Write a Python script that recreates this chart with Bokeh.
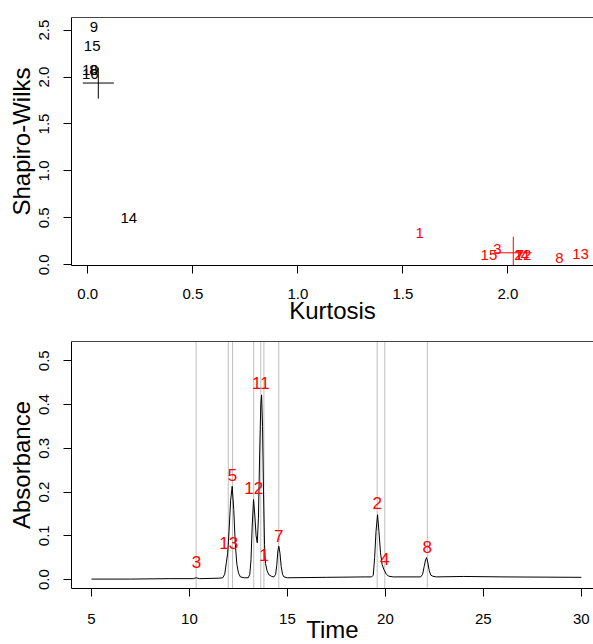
from bokeh.plotting import figure
from bokeh.layouts import column
from bokeh.models import LinearAxis, FixedTicker, Range1d, NumeralTickFormatter
from bokeh.core.properties import value
from bokeh.embed import file_html
from bokeh.resources import INLINE

FONT = "Liberation Sans"

# ---------------- top panel data (Kurtosis vs Shapiro-Wilks) ----------------
black_labels = ["9", "15", "10", "8", "16", "14"]
black_kurt = [0.029, 0.021, 0.012, 0.027, 0.012, 0.195]
black_sw = [2.528, 2.333, 2.075, 2.07, 2.035, 0.50]

red_labels = ["1", "3", "15", "2", "7", "12", "4", "8", "13"]
red_kurt = [1.58, 1.95, 1.91, 2.05, 2.058, 2.072, 2.082, 2.246, 2.346]
red_sw = [0.336, 0.17, 0.10, 0.10, 0.10, 0.10, 0.10, 0.074, 0.117]

# group centres with spread (crosses)
cross_x = [0.05, 2.026]
cross_y = [1.936, 0.128]
cross_xlo = [-0.024, 1.94]
cross_xhi = [0.124, 2.112]
cross_ylo = [1.77, -0.04]
cross_yhi = [2.10, 0.30]
cross_col = ["black", "#FF0000"]

kurt_ticks = [0.0, 0.5, 1.0, 1.5, 2.0]
sw_ticks = [0.0, 0.5, 1.0, 1.5, 2.0, 2.5]

# ---------------- bottom panel data (chromatogram) ----------------
time = [5.0, 7.0, 9.0, 10.2, 10.34, 10.5, 11.5, 11.7, 11.8, 11.88, 11.95, 12.02,
        12.10, 12.18, 12.26, 12.34, 12.42, 12.50, 12.60, 12.80, 13.00, 13.08,
        13.14, 13.20, 13.27, 13.33, 13.40, 13.46, 13.52, 13.58, 13.64, 13.68,
        13.73, 13.78, 13.83, 13.88, 13.96, 14.05, 14.20, 14.31, 14.40, 14.46,
        14.51, 14.56, 14.62, 14.68, 14.75, 14.82, 15.0, 17.0, 19.0, 19.30,
        19.38, 19.45, 19.52, 19.60, 19.67, 19.75, 19.83, 19.92, 20.05, 20.18,
        20.4, 21.8, 21.9, 21.98, 22.05, 22.10, 22.16, 22.24, 22.32, 22.42,
        22.6, 24.0, 26.0, 30.0]
absorb = [0.001, 0.001, 0.002, 0.002, 0.004, 0.002, 0.003, 0.004, 0.012, 0.038,
          0.060, 0.110, 0.180, 0.213, 0.160, 0.080, 0.035, 0.015, 0.006, 0.004,
          0.004, 0.012, 0.045, 0.120, 0.183, 0.150, 0.100, 0.084, 0.140, 0.280,
          0.400, 0.422, 0.350, 0.200, 0.080, 0.037, 0.020, 0.011, 0.007, 0.006,
          0.012, 0.035, 0.065, 0.076, 0.060, 0.030, 0.012, 0.006, 0.004, 0.005,
          0.006, 0.006, 0.010, 0.050, 0.110, 0.148, 0.110, 0.061, 0.035, 0.023,
          0.012, 0.0075, 0.006, 0.006, 0.012, 0.030, 0.045, 0.050, 0.040, 0.020,
          0.010, 0.0075, 0.006, 0.007, 0.006, 0.005]

peak_labels = ["3", "13", "5", "12", "11", "1", "7", "2", "4", "8"]
peak_time = [10.34, 11.98, 12.20, 13.28, 13.64, 13.80, 14.56, 19.58, 19.97, 22.14]
label_time = [10.36, 12.0, 12.2, 13.28, 13.64, 13.8, 14.56, 19.58, 19.97, 22.14]
label_abs = [0.040, 0.0845, 0.240, 0.209, 0.449, 0.055, 0.100, 0.175, 0.046, 0.075]

time_ticks = [5, 10, 15, 20, 25, 30]
abs_ticks = [0.0, 0.1, 0.2, 0.3, 0.4, 0.5]


def style_axes(p, xticks, yticks, xfmt, yfmt, xlabel, ylabel, xlstand, xstand, ystand):
    p.outline_line_color = None
    p.xgrid.visible = False
    p.ygrid.visible = False
    p.background_fill_color = "white"
    p.border_fill_color = "white"
    for ax in p.xaxis + p.yaxis:
        ax.axis_line_color = "black"
        ax.axis_line_width = 1
        ax.major_tick_line_color = "black"
        ax.major_tick_out = 8
        ax.major_tick_in = 0
        ax.minor_tick_line_color = None
        ax.major_label_text_font = FONT
        ax.major_label_text_font_size = "15px"
        ax.major_label_text_color = "black"
        ax.axis_label_text_font = FONT
        ax.axis_label_text_font_size = "24px"
        ax.axis_label_text_font_style = "normal"
        ax.axis_label_text_color = "black"
    p.xaxis.ticker = FixedTicker(ticks=xticks)
    p.yaxis.ticker = FixedTicker(ticks=yticks)
    p.xaxis.formatter = NumeralTickFormatter(format=xfmt)
    p.yaxis.formatter = NumeralTickFormatter(format=yfmt)
    p.xaxis.axis_label = xlabel
    p.yaxis.axis_label = ylabel
    p.xaxis.major_label_standoff = xlstand
    p.yaxis.major_label_standoff = 14
    p.yaxis.major_label_orientation = "vertical"
    p.xaxis.axis_label_standoff = xstand
    p.yaxis.axis_label_standoff = ystand
    top = LinearAxis(ticker=FixedTicker(ticks=[]), major_label_text_font_size="0px",
                     axis_line_color="#444444", major_tick_line_color=None,
                     minor_tick_line_color=None)
    p.add_layout(top, "above")


# ---------------- top figure ----------------
p1 = figure(frame_width=522, frame_height=248, min_border_left=71, min_border_right=0,
            min_border_top=17, min_border_bottom=57,
            x_range=Range1d(-0.0776, 2.408), y_range=Range1d(-0.007, 2.634),
            toolbar_location=None, output_backend="svg")
style_axes(p1, kurt_ticks, sw_ticks, "0.0", "0.0", "Kurtosis", "Shapiro-Wilks", 15, -5, 2)

for i in range(len(cross_x)):
    p1.segment(x0=[cross_xlo[i]], y0=[cross_y[i]], x1=[cross_xhi[i]], y1=[cross_y[i]],
               line_color=cross_col[i], line_width=1)
    p1.segment(x0=[cross_x[i]], y0=[cross_ylo[i]], x1=[cross_x[i]], y1=[cross_yhi[i]],
               line_color=cross_col[i], line_width=1)

p1.text(x=black_kurt, y=black_sw, text=black_labels, text_font=value(FONT),
        text_font_size=value("15px"), text_align="center", text_baseline="middle",
        text_color="black")
p1.text(x=red_kurt, y=red_sw, text=red_labels, text_font=value(FONT),
        text_font_size=value("15px"), text_align="center", text_baseline="middle",
        text_color="#FF0000")

# ---------------- bottom figure ----------------
p2 = figure(frame_width=522, frame_height=247, min_border_left=71, min_border_right=0,
            min_border_top=15, min_border_bottom=50,
            x_range=Range1d(3.98, 30.62), y_range=Range1d(-0.0205, 0.544),
            toolbar_location=None, output_backend="svg")
style_axes(p2, time_ticks, abs_ticks, "0", "0.0", "Time", "Absorbance", 17, -11, 2)

p2.segment(x0=peak_time, y0=[-1] * len(peak_time), x1=peak_time, y1=[1] * len(peak_time),
           line_color="#BEBEBE", line_width=1)
p2.line(time, absorb, line_color="black", line_width=1)
p2.text(x=label_time, y=label_abs, text=peak_labels, text_font=value(FONT),
        text_font_size=value("17px"), text_align="center", text_baseline="middle",
        text_color="#FF0000")

layout = column(p1, p2, spacing=0)
open("out.html", "w").write(file_html(layout, INLINE))
